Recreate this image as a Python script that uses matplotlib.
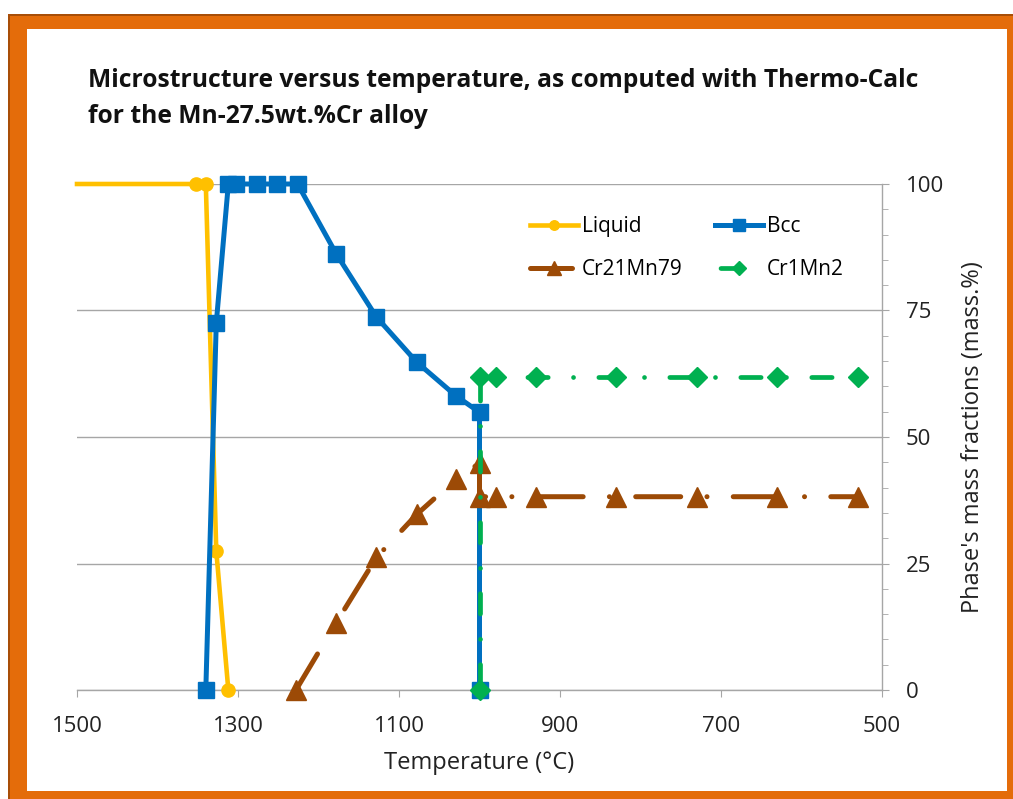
import matplotlib
matplotlib.use("Agg")
import matplotlib.pyplot as plt
from matplotlib.patches import Rectangle
from matplotlib.ticker import MultipleLocator

plt.rcParams['font.family'] = ['Open Sans', 'DejaVu Sans']

# data (temperature in °C, phase fraction in mass.%)
liq_T = [1500, 1352, 1340, 1327, 1312]
liq_v = [100, 100, 100, 27.5, 0]

bcc_T = [1340, 1327, 1312, 1302, 1277, 1251, 1226, 1178, 1128, 1078, 1029, 1000, 1000]
bcc_v = [0, 72.5, 100, 100, 100, 100, 100, 86.2, 73.7, 64.8, 58.1, 54.9, 0]

cr21_T = [1228, 1178, 1128, 1078, 1029, 1000, 1000, 980, 930, 830, 730, 630, 530]
cr21_v = [0, 13.3, 26.2, 34.7, 41.7, 44.8, 38.2, 38.2, 38.2, 38.2, 38.2, 38.2, 38.2]

cr1_T = [1000, 1000, 980, 930, 830, 730, 630, 530]
cr1_v = [0, 61.8, 61.8, 61.8, 61.8, 61.8, 61.8, 61.8]

x_ticks = [1500, 1300, 1100, 900, 700, 500]
y_ticks = [0, 25, 50, 75, 100]

W, H = 1013, 799
fig = plt.figure(figsize=(W / 100, H / 100), dpi=100)

def fx(px):
    return px / W

def fy(py):
    return 1 - py / H

# orange frame (drawn below the axes)
orange = '#E46C0A'
dark = '#A84E08'
frame = [
    Rectangle((fx(8), 0), 1 - fx(8), fy(14), facecolor=orange),
    Rectangle((fx(8), fy(16)), 1 - fx(8), fy(14) - fy(16), facecolor=dark),
    Rectangle((fx(8), 0), fx(10) - fx(8), fy(14), facecolor=dark),
    Rectangle((fx(27), fy(791)), fx(1007) - fx(27), fy(29) - fy(791), facecolor='white'),
]
for p in frame:
    p.set_transform(fig.transFigure)
    p.set_edgecolor('none')
    p.set_zorder(-5)
    fig.patches.append(p)

ax = fig.add_axes([fx(77), fy(690), fx(882) - fx(77), fy(184) - fy(690)])
ax.set_facecolor('none')
ax.set_zorder(2)

# dash patterns are in units of line width: long dash-dot and dash-dot (Excel style)
ax.plot(liq_T, liq_v, color='#FFC000', lw=3.3, marker='o', ms=9.5, markevery=[1, 2, 3, 4],
        label='Liquid', clip_on=False, zorder=3)
ax.plot(bcc_T, bcc_v, color='#0070C0', lw=3.6, marker='s', ms=11.5, label='Bcc',
        clip_on=False, zorder=4)
ax.plot(cr21_T, cr21_v, color='#9C4A06', lw=3.6, marker='^', ms=14, label='Cr21Mn79',
        linestyle=(0.6, (9, 5.25, 0.01, 5.25)), dash_capstyle='round', clip_on=False, zorder=5)
ax.plot(cr1_T, cr1_v, color='#00B050', lw=3.4, marker='D', ms=10, label='Cr1Mn2',
        linestyle=(13.86, (4.3, 5.36, 0.01, 5.36)), dash_capstyle='round', clip_on=False, zorder=6)

ax.set_xlim(1500, 500)
ax.set_ylim(0, 100)
ax.set_xticks(x_ticks)
ax.set_yticks(y_ticks)
ax.yaxis.set_minor_locator(MultipleLocator(5))
ax.yaxis.tick_right()
ax.yaxis.set_label_position('right')
ax.grid(axis='y', color='#A6A6A6', lw=1)
ax.set_axisbelow(True)

for s in ['top', 'left']:
    ax.spines[s].set_visible(False)
for s in ['bottom', 'right']:
    ax.spines[s].set_color('#A6A6A6')
    ax.spines[s].set_linewidth(1)

ax.tick_params(axis='x', direction='out', length=5, color='#A6A6A6', labelsize=16,
               labelcolor='#222222', pad=13.5)
ax.tick_params(axis='y', which='major', direction='out', length=5, color='#A6A6A6',
               labelsize=16, labelcolor='#222222', pad=12)
ax.tick_params(axis='y', which='minor', direction='out', length=4, color='#A6A6A6')
for lab in ax.get_yticklabels():
    lab.set_horizontalalignment('left')

ax.set_xlabel('Temperature (°C)', fontsize=17, color='#222222', labelpad=10)
ax.set_ylabel("Phase's mass fractions (mass.%)", fontsize=17, color='#222222', labelpad=12)

h, l = ax.get_legend_handles_labels()
order = [0, 2, 1, 3]
ax.legend([h[i] for i in order], [l[i] for i in order], ncol=2, frameon=False,
          loc='upper left', bbox_to_anchor=(fx(530), fy(216)), bbox_transform=fig.transFigure,
          fontsize=15, handlelength=2.3, handletextpad=0.2, columnspacing=1.55,
          labelspacing=1.05, borderpad=0, borderaxespad=0, numpoints=1, markerscale=0.72)

fig.text(fx(88), fy(87), 'Microstructure versus temperature, as computed with Thermo-Calc',
         fontsize=17.75, fontweight='bold', va='baseline', ha='left', color='#111111')
fig.text(fx(88), fy(123), 'for the Mn-27.5wt.%Cr alloy',
         fontsize=17.75, fontweight='bold', va='baseline', ha='left', color='#111111')

fig.savefig('out.png', dpi=100)
